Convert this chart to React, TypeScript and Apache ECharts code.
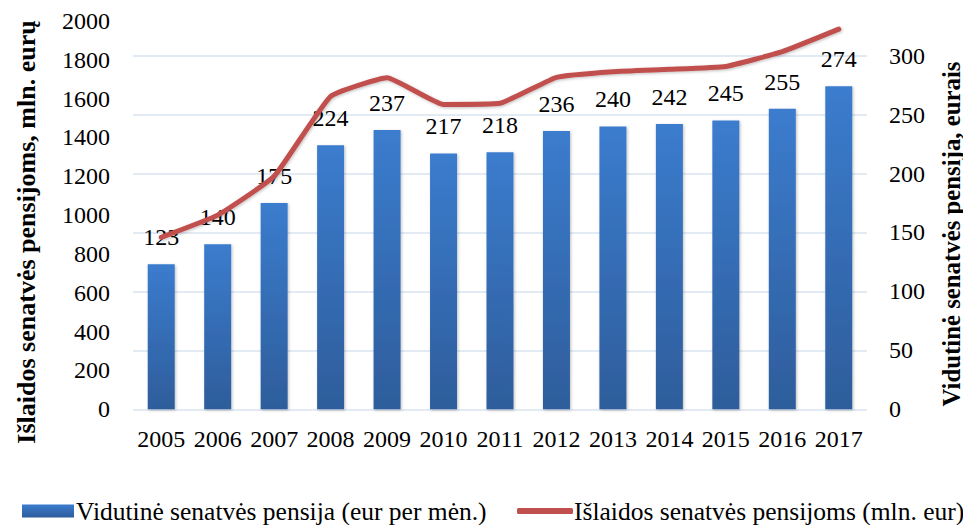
import React, { useEffect, useRef } from "react";
import * as echarts from "echarts";

const years = ["2005", "2006", "2007", "2008", "2009", "2010", "2011", "2012", "2013", "2014", "2015", "2016", "2017"];
const avgPension = [123, 140, 175, 224, 237, 217, 218, 236, 240, 242, 245, 255, 274];
const expenses = [886, 1000, 1200, 1612, 1708, 1570, 1576, 1710, 1739, 1751, 1766, 1842, 1958];

const barName = "Vidutinė senatvės pensija (eur per mėn.)";
const lineName = "Išlaidos senatvės pensijoms (mln. eur)";
const leftTitle = "Išlaidos senatvės pensijoms, mln. eurų";
const rightTitle = "Vidutinė senatvės pensija, eurais";

const FONT = "'Liberation Serif', 'DejaVu Serif', serif";

export default function App() {
  const ref = useRef<HTMLDivElement>(null);
  useEffect(() => {
    if (!ref.current) return;
    const chart = echarts.init(ref.current, undefined, { renderer: "svg" });
    const txt = { fontFamily: FONT, fontSize: 24, color: "#000" };
    const legendTxt = { fontFamily: FONT, fontSize: 25.5, color: "#000" };
    const titleStyle = (text: string, size: number) => ({
      text,
      fill: "#000",
      font: `bold ${size}px ${FONT}`,
      textAlign: "center",
      textVerticalAlign: "middle",
    });
    chart.setOption({
      animation: false,
      backgroundColor: "#fff",
      textStyle: { fontFamily: FONT },
      grid: { left: 133, right: 96, top: 21, bottom: 115.7, containLabel: false },
      graphic: [
        { type: "text", x: 26, y: 232, rotation: Math.PI / 2, style: titleStyle(leftTitle, 26) },
        { type: "text", x: 951, y: 234, rotation: Math.PI / 2, style: titleStyle(rightTitle, 24.8) },
      ],
      legend: [
        {
          data: [barName],
          left: 17,
          top: 493,
          itemWidth: 52,
          itemHeight: 13,
          icon: "rect",
          textStyle: { ...legendTxt, padding: [0, 0, 0, -3] },
        },
        {
          data: [lineName],
          left: 512,
          top: 493,
          itemWidth: 56,
          itemHeight: 6,
          icon: "roundRect",
          textStyle: { ...legendTxt, padding: [0, 0, 0, -4] },
        },
      ],
      xAxis: {
        type: "category",
        data: years,
        axisLine: { show: false },
        axisTick: { show: false },
        axisLabel: { ...txt, margin: 18, interval: 0 },
      },
      yAxis: [
        {
          type: "value",
          position: "left",
          min: 0,
          max: 2000,
          interval: 200,
          splitLine: { show: false },
          axisLine: { show: false },
          axisTick: { show: false },
          axisLabel: { ...txt, margin: 23, formatter: (v: number) => String(v) },
        },
        {
          type: "value",
          position: "right",
          min: 0,
          max: 329.4,
          interval: 50,
          splitLine: { show: true, showMaxLine: false, lineStyle: { color: "#d9e3f1", width: 1.5 } },
          axisLine: { show: false },
          axisTick: { show: false },
          axisLabel: { ...txt, margin: 22, showMaxLabel: false },
        },
      ],
      series: [
        {
          name: barName,
          type: "bar",
          yAxisIndex: 1,
          data: avgPension,
          barWidth: 27,
          itemStyle: {
            color: new echarts.graphic.LinearGradient(0, 0, 0, 1, [
              { offset: 0, color: "#3b7cce" },
              { offset: 1, color: "#2e5d9b" },
            ]),
            shadowBlur: 3,
            shadowColor: "rgba(0,0,0,0.25)",
            shadowOffsetX: 1,
            shadowOffsetY: 1,
          },
          label: { show: true, position: "top", distance: 15, ...txt },
          z: 2,
        },
        {
          name: lineName,
          type: "line",
          yAxisIndex: 0,
          data: expenses,
          smooth: 0.12,
          symbol: "none",
          lineStyle: {
            color: "#c0504d",
            width: 5,
            cap: "round",
            join: "round",
            shadowBlur: 3,
            shadowColor: "rgba(0,0,0,0.25)",
            shadowOffsetX: 1,
            shadowOffsetY: 1,
          },
          itemStyle: { color: "#c0504d" },
          z: 3,
        },
      ],
    });
    return () => chart.dispose();
  }, []);
  return (
    <div
      ref={ref}
      style={{ position: "fixed", left: 0, top: 0, width: 963, height: 525, background: "#fff" }}
    />
  );
}
